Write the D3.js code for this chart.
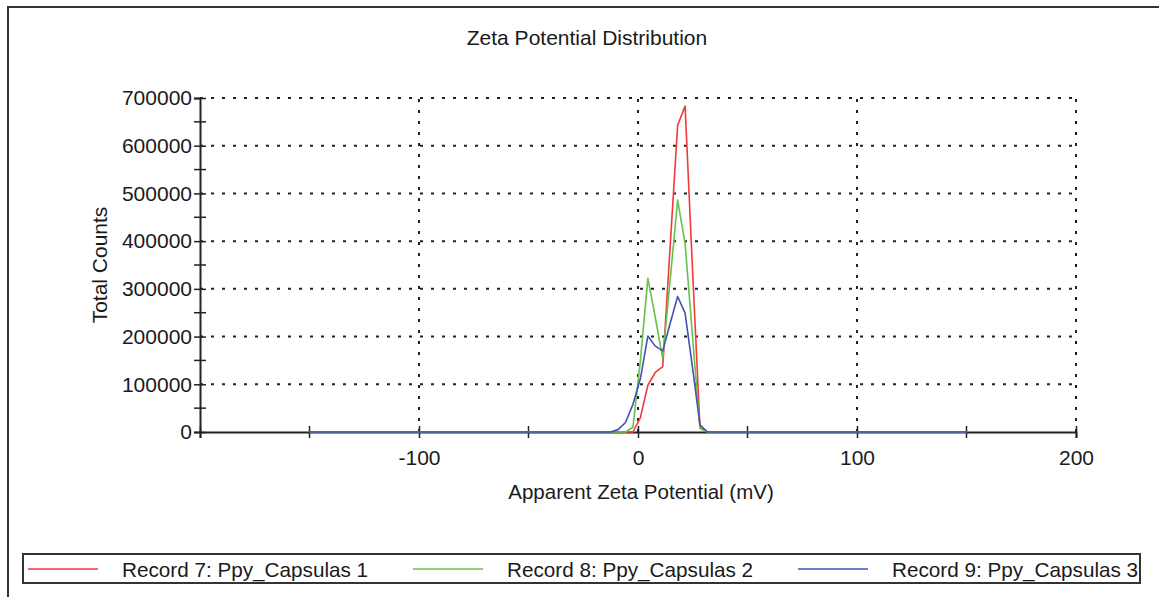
<!DOCTYPE html>
<html>
<head>
<meta charset="utf-8">
<script src="https://cdn.jsdelivr.net/npm/d3@7"></script>
<style>
  body { margin: 0; background: #fff; }
  svg text { font-family: "Liberation Sans", Arial, sans-serif; fill: #1a1a1a; }
</style>
</head>
<body>
<svg id="chart" width="1159" height="597"></svg>
<script>
// ---- data ----
const zeta = [-150, -12.5, -9.1, -5.7, -2.3, 1.1, 4.5, 7.9, 11.3, 14.7, 18.1, 21.5, 24.9, 28.3, 31.7, 150];
const record7 = [0, 0, 0, 0, 0, 30000, 98000, 125000, 137000, 390000, 643000, 683000, 340000, 10000, 0, 0];
const record8 = [0, 0, 0, 0, 10000, 150000, 322000, 240000, 154000, 320000, 486000, 395000, 200000, 8000, 0, 0];
const record9 = [0, 0, 5000, 20000, 58000, 112000, 201000, 180000, 170000, 228000, 284000, 249000, 135000, 15000, 0, 0];
const seriesNames = ["Record 7: Ppy_Capsulas 1", "Record 8: Ppy_Capsulas 2", "Record 9: Ppy_Capsulas 3"];
const seriesColors = ["#f23a3a", "#66c24a", "#4352b3"];
const xTicks = [-200, -100, 0, 100, 200];
const xTickLabels = ["", "-100", "0", "100", "200"];
const xMinorTicks = [-150, -50, 50, 150];
const yTicks = [0, 100000, 200000, 300000, 400000, 500000, 600000, 700000];
const yMinorTicks = [50000, 150000, 250000, 350000, 450000, 550000, 650000];

const svg = d3.select("#chart");

// outer frame
svg.append("path").attr("d", "M8,600 L8,7 L1165,7")
  .attr("fill", "none").attr("stroke", "#333").attr("stroke-width", 2);

const x = d3.scaleLinear().domain([-200, 200]).range([200, 1076]);
const y = d3.scaleLinear().domain([0, 700000]).range([432, 98]);

// grid
const grid = svg.append("g");
grid.selectAll(".hg").data(yTicks.filter(d => d > 0)).join("line")
  .attr("x1", x(-200)).attr("x2", x(200))
  .attr("y1", d => y(d)).attr("y2", d => y(d))
  .attr("stroke", "#222").attr("stroke-width", 2).attr("stroke-dasharray", "3,8");
grid.selectAll(".vg").data(xTicks.filter(d => d > -200)).join("line")
  .attr("x1", d => x(d)).attr("x2", d => x(d))
  .attr("y1", y(0)).attr("y2", y(700000))
  .attr("stroke", "#222").attr("stroke-width", 2).attr("stroke-dasharray", "3,8");

// axes
const yAxis = d3.axisLeft(y).tickValues(yTicks).tickFormat(d => String(d)).tickSize(6).tickPadding(2);
const gy = svg.append("g").attr("transform", `translate(${x(-200)},0)`).call(yAxis);
gy.select(".domain").attr("stroke", "#222").attr("stroke-width", 2);
gy.selectAll(".tick line").attr("x1", 6).attr("stroke", "#222").attr("stroke-width", 1.5);
gy.selectAll(".tick text").attr("font-size", 21).style("font-family", "Liberation Sans, Arial, sans-serif").attr("fill", "#1a1a1a");
gy.selectAll(".minor").data(yMinorTicks).join("line")
  .attr("x1", -6).attr("x2", 6).attr("y1", d => y(d)).attr("y2", d => y(d))
  .attr("stroke", "#222").attr("stroke-width", 1.5);

const xAxis = d3.axisBottom(x).tickValues(xTicks).tickFormat((d, i) => xTickLabels[i]).tickSize(6).tickPadding(12);
const gx = svg.append("g").attr("transform", `translate(0,${y(0)})`).call(xAxis);
gx.select(".domain").attr("stroke", "#222").attr("stroke-width", 2);
gx.selectAll(".tick line").attr("y1", -6).attr("stroke", "#222").attr("stroke-width", 1.5);
gx.selectAll(".tick text").attr("font-size", 21).style("font-family", "Liberation Sans, Arial, sans-serif").attr("fill", "#1a1a1a");
gx.selectAll(".minor").data(xMinorTicks).join("line")
  .attr("x1", d => x(d)).attr("x2", d => x(d)).attr("y1", -6).attr("y2", 6)
  .attr("stroke", "#222").attr("stroke-width", 1.5);

// series
const allSeries = [record7, record8, record9];
const line = d3.line().x((d, i) => x(zeta[i])).y(d => y(d));
allSeries.forEach((vals, k) => {
  svg.append("path").datum(vals).attr("d", line)
    .attr("fill", "none").attr("stroke", seriesColors[k]).attr("stroke-width", 1.6)
    .attr("stroke-linejoin", "round");
});

// titles
svg.append("text").attr("x", 587).attr("y", 45).attr("text-anchor", "middle")
  .attr("font-size", 21).text("Zeta Potential Distribution");
svg.append("text").attr("x", 641).attr("y", 499).attr("text-anchor", "middle")
  .attr("font-size", 20.5).text("Apparent Zeta Potential (mV)");
svg.append("text").attr("transform", "translate(107,265) rotate(-90)").attr("text-anchor", "middle")
  .attr("font-size", 21).text("Total Counts");

// legend
const leg = svg.append("g");
leg.append("rect").attr("x", 23).attr("y", 554).attr("width", 1117).attr("height", 29)
  .attr("fill", "#fff").attr("stroke", "#333").attr("stroke-width", 2);
const legX = [28, 413, 798];
seriesNames.forEach((name, k) => {
  leg.append("line").attr("x1", legX[k]).attr("x2", legX[k] + 70).attr("y1", 569).attr("y2", 569)
    .attr("stroke", seriesColors[k]).attr("stroke-width", 1.6);
  leg.append("text").attr("x", legX[k] + 94).attr("y", 577).attr("font-size", 20.7).text(name);
});
</script>
</body>
</html>
